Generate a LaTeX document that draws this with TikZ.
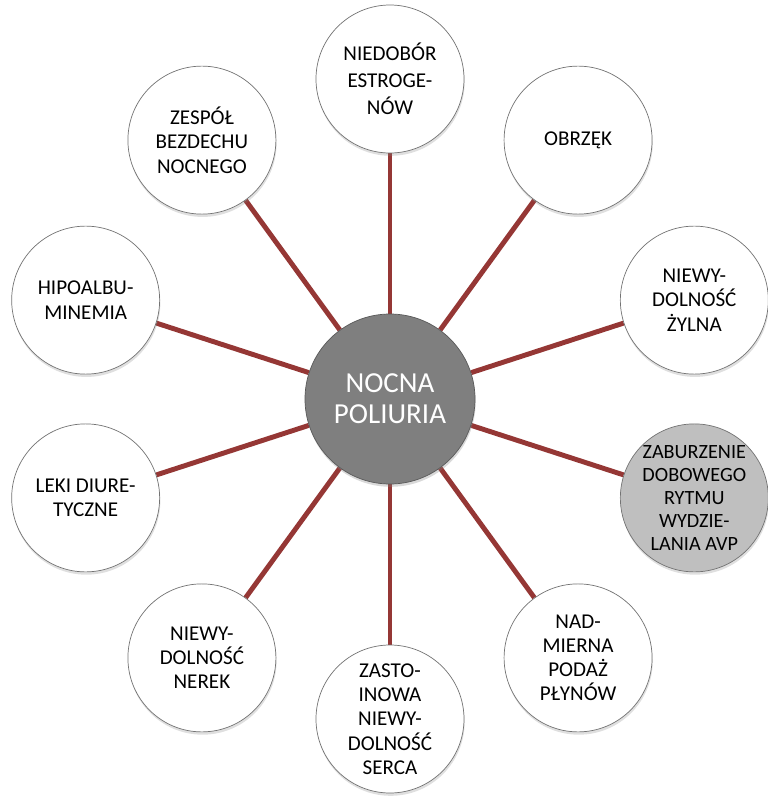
\documentclass[tikz,border=0pt]{standalone}
\usepackage{fontspec}
\setmainfont{Carlito}
\usepackage{tikz}
\usetikzlibrary{shadows,backgrounds}
\definecolor{spokered}{HTML}{953735}
\definecolor{ringgray}{HTML}{7F7F7F}

\begin{document}
\begin{tikzpicture}[
    cause/.style={circle, draw=black!55, fill=white, minimum size=2.96cm, inner sep=0pt,
        align=center, font=\fontsize{12}{13.8}\selectfont,
        drop shadow={shadow xshift=0.4pt, shadow yshift=-1.6pt, opacity=0.25}},
    hub/.style={circle, draw=black!65, fill=ringgray, minimum size=3.4cm, inner sep=0pt,
        align=center, text=white, font=\fontsize{16.5}{17.5}\selectfont,
        drop shadow={shadow xshift=0.4pt, shadow yshift=-1.6pt, opacity=0.3}},
    spoke/.style={draw=spokered, line width=2.8pt}]

    \useasboundingbox (-7.8,-7.94) rectangle (7.56,7.98);

    \node[hub] (np) at (0,0) {NOCNA\\POLIURIA};

    \node[cause, font=\fontsize{12}{15.5}\selectfont] (est) at (90:6.4)  {NIEDOBÓR\\ESTROGE-\\NÓW};
    \node[cause] (obr) at (54:6.4)  {OBRZĘK};
    \node[cause] (zyl) at (18:6.4)  {NIEWY-\\DOLNOŚĆ\\ŻYLNA};
    \node[cause, fill=black!25, font=\fontsize{11.5}{13}\selectfont] (avp) at (-18:6.4) {ZABURZENIE\\DOBOWEGO\\RYTMU\\WYDZIE-\\LANIA AVP};
    \node[cause] (pod) at (-54:6.4) {NAD-\\MIERNA\\PODAŻ\\PŁYNÓW};
    \node[cause] (ser) at (-90:6.4) {ZASTO-\\INOWA\\NIEWY-\\DOLNOŚĆ\\SERCA};
    \node[cause] (ner) at (-126:6.4) {NIEWY-\\DOLNOŚĆ\\NEREK};
    \node[cause] (dir) at (-162:6.4) {LEKI DIURE-\\TYCZNE};
    \node[cause] (alb) at (162:6.4) {HIPOALBU-\\MINEMIA};
    \node[cause] (bez) at (126:6.4) {ZESPÓŁ\\BEZDECHU\\NOCNEGO};

    \begin{scope}[on background layer]
        \path[spoke]
            (np) edge (est)
            (np) edge (obr)
            (np) edge (zyl)
            (np) edge (avp)
            (np) edge (pod)
            (np) edge (ser)
            (np) edge (ner)
            (np) edge (dir)
            (np) edge (alb)
            (np) edge (bez);
    \end{scope}

\end{tikzpicture}
\end{document}
